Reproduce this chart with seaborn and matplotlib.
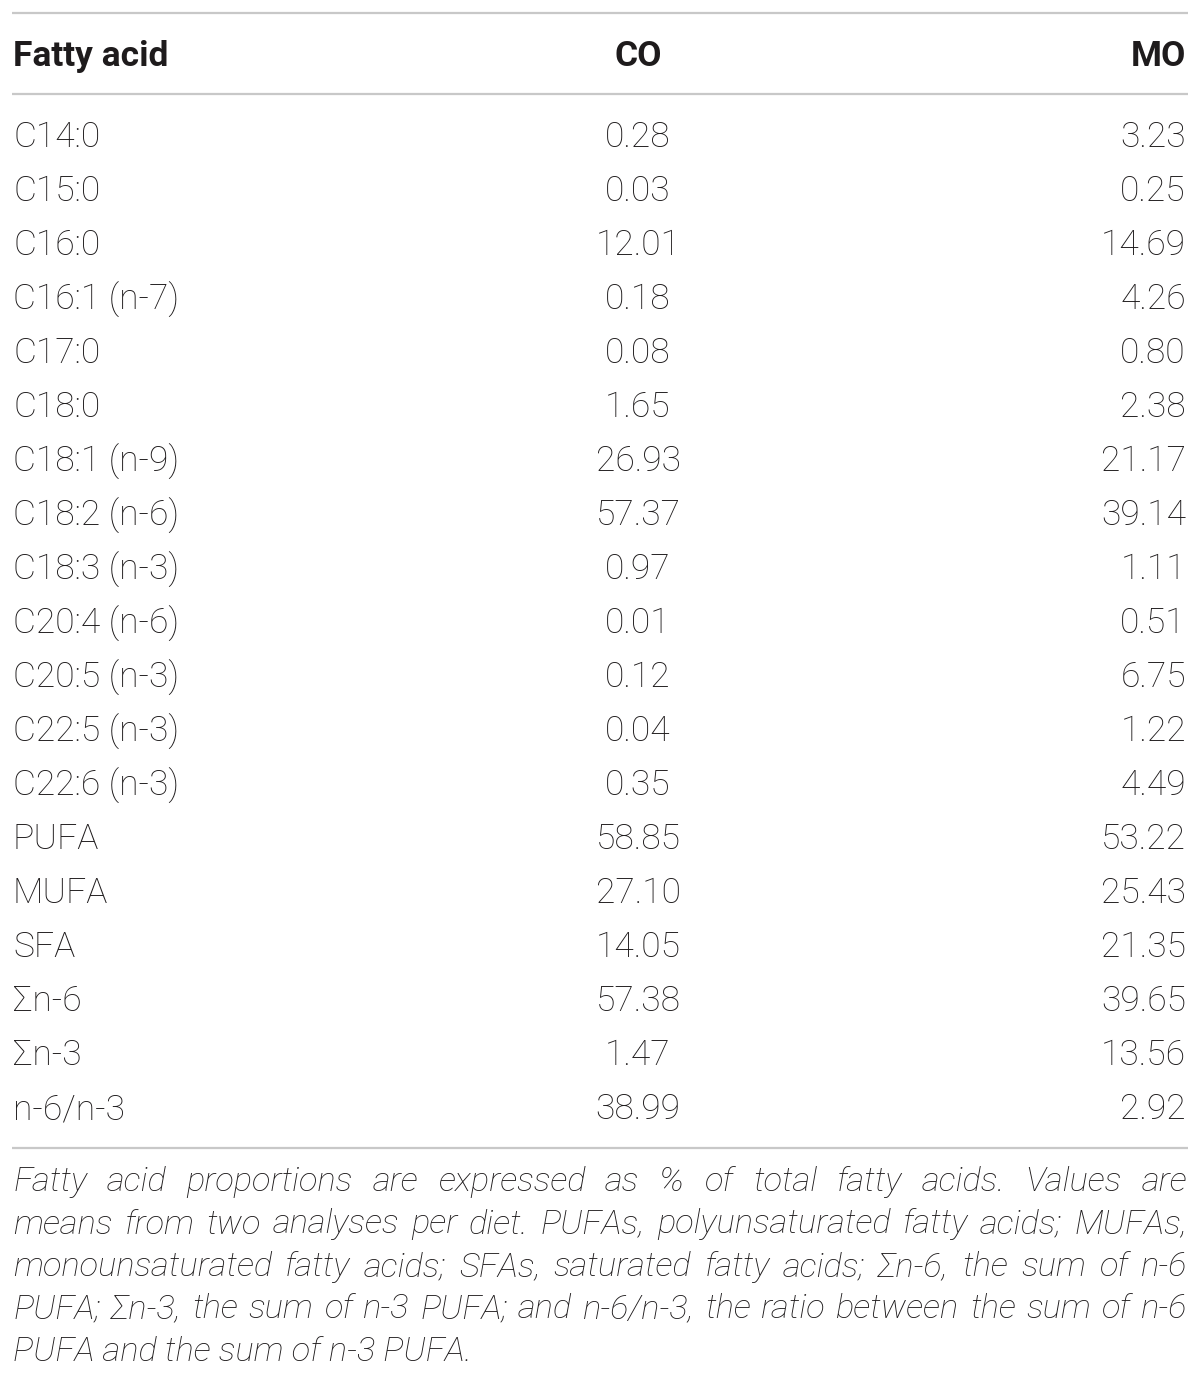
#!/usr/bin/env python3
"""Fatty acid composition of the two diets (CO vs MO), drawn as a table."""

import matplotlib
matplotlib.use("Agg")
import matplotlib.pyplot as plt
import seaborn as sns

# Table data
fatty_acids = ["C14:0", "C15:0", "C16:0", "C16:1 (n-7)", "C17:0", "C18:0",
               "C18:1 (n-9)", "C18:2 (n-6)", "C18:3 (n-3)", "C20:4 (n-6)",
               "C20:5 (n-3)", "C22:5 (n-3)", "C22:6 (n-3)", "PUFA", "MUFA",
               "SFA", "\u03a3n-6", "\u03a3n-3", "n-6/n-3"]
co_values = [0.28, 0.03, 12.01, 0.18, 0.08, 1.65, 26.93, 57.37, 0.97, 0.01,
             0.12, 0.04, 0.35, 58.85, 27.10, 14.05, 57.38, 1.47, 38.99]
mo_values = [3.23, 0.25, 14.69, 4.26, 0.80, 2.38, 21.17, 39.14, 1.11, 0.51,
             6.75, 1.22, 4.49, 53.22, 25.43, 21.35, 39.65, 13.56, 2.92]
headers = ["Fatty acid", "CO", "MO"]
footnote_lines = [
    "Fatty acid proportions are expressed as % of total fatty acids. Values are",
    "means from two analyses per diet. PUFAs, polyunsaturated fatty acids; MUFAs,",
    "monounsaturated fatty acids; SFAs, saturated fatty acids; \u03a3n-6, the sum of n-6",
    "PUFA; \u03a3n-3, the sum of n-3 PUFA; and n-6/n-3, the ratio between the sum of n-6",
    "PUFA and the sum of n-3 PUFA.",
]

sns.set_theme(style="white")
plt.rcParams['font.family'] = ['Roboto', 'DejaVu Sans']

W, H = 1200, 1375
fig = plt.figure(figsize=(W / 100, H / 100), dpi=100)
ax = fig.add_axes([0, 0, 1, 1])
ax.set_xlim(0, W)
ax.set_ylim(H, 0)
ax.axis("off")

text_color = "#1e1b1c"
rule_color = "#c8c8c8"
x_left, x_mid, x_right = 13, 638, 1186
row0, row_step = 134, 54

# rules
for y in (13, 94, 1148):
    ax.plot([12, 1188], [y, y], color=rule_color, lw=1.6, solid_capstyle="butt")

# header
hkw = dict(va="center_baseline", fontsize=25.5, fontweight="bold", color=text_color)
ax.text(x_left, 53, headers[0], ha="left", **hkw)
ax.text(x_mid, 53, headers[1], ha="center", **hkw)
ax.text(x_right, 53, headers[2], ha="right", **hkw)

# body rows
for i, (name, co, mo) in enumerate(zip(fatty_acids, co_values, mo_values)):
    y = row0 + i * row_step
    kw = dict(va="center_baseline", fontsize=25.5, fontweight="light", color=text_color)
    ax.text(x_left, y, name, ha="left", **kw)
    ax.text(x_mid, y, f"{co:.2f}", ha="center", **kw)
    ax.text(x_right, y, f"{mo:.2f}", ha="right", **kw)

# footnote, justified except for the last line
renderer = fig.canvas.get_renderer()
foot_kw = dict(va="baseline", fontsize=24.8, fontstyle="italic",
               fontweight="light", color=text_color)
line_left, line_right = 13, 1187
for k, line in enumerate(footnote_lines):
    yb = 1191 + k * 42.5
    words = line.split(" ")
    if k == len(footnote_lines) - 1:
        ax.text(line_left, yb, line, ha="left", **foot_kw)
        continue
    items = [ax.text(0, yb, w, ha="left", **foot_kw) for w in words]
    widths = [t.get_window_extent(renderer).width for t in items]
    gap = (line_right - line_left - sum(widths)) / (len(words) - 1)
    x = line_left
    for t, wd in zip(items, widths):
        t.set_x(x)
        x += wd + gap

fig.savefig("out.png", dpi=100)
